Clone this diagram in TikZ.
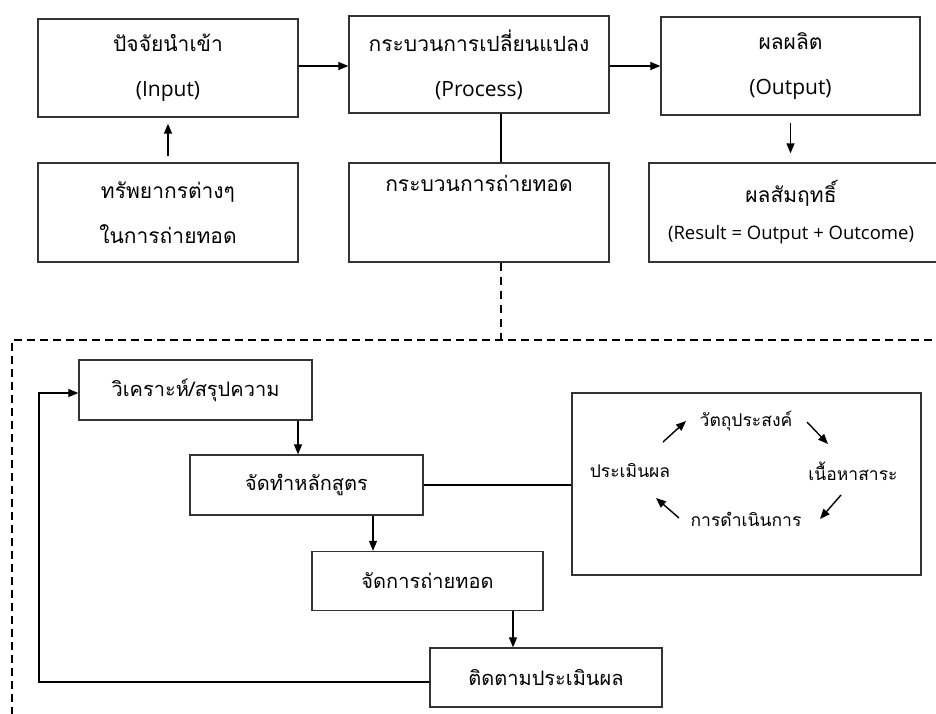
\documentclass[tikz,border=0pt]{standalone}
\usepackage{fontspec}
\setmainfont{Open Sans}
\newfontfamily\thaifont[Script=Thai]{Loma}
\usetikzlibrary{arrows.meta}
\begin{document}
\begin{tikzpicture}[x=1pt, y=-1pt,
  line width=1.2pt,
  box/.style={draw=black!80, line width=1.3pt, inner sep=0pt, align=center,
    font=\fontsize{21}{45}\selectfont},
  smallbox/.style={box, font=\fontsize{20}{40}\selectfont},
  lbl/.style={inner sep=0pt, align=center, font=\fontsize{17.5}{20}\selectfont\thaifont},
  arr/.style={-{Triangle[length=10pt,width=8pt]}, line width=1.2pt},
  cyc/.style={-{Triangle[length=10pt,width=8pt]}, line width=1.4pt},
  frame/.style={line width=1.2pt, dash pattern=on 7pt off 5pt}
]
\useasboundingbox (0,0) rectangle (936,713);

% upper row: input, process, output
\node[box, minimum width=260pt, minimum height=98pt] (inp) at (168,68)
  {{\thaifont ปัจจัยนำเข้า}\\(Input)};
\node[box, minimum width=260pt, minimum height=97pt] (proc) at (479,64.5)
  {{\thaifont กระบวนการเปลี่ยนแปลง}\\(Process)};
\node[box, minimum width=259pt, minimum height=98pt] (outp) at (790.5,66)
  {{\thaifont ผลผลิต}\\(Output)};

% second row
\node[box, minimum width=260pt, minimum height=99pt] (res) at (168,212.5)
  {{\thaifont ทรัพยากรต่างๆ}\\{\thaifont ในการถ่ายทอด}};
\node[box, minimum width=260pt, minimum height=99pt] (trans) at (479,212.5)
  {{\thaifont กระบวนการถ่ายทอด}\\\strut};
\node[box, minimum width=300pt, minimum height=99pt] (result) at (799,212.5) {};
\node[inner sep=0pt, align=center, font=\fontsize{21}{37}\selectfont] (resulttext) at (791,212)
  {{\thaifont ผลสัมฤทธิ์}\\{\fontsize{18.5}{37}\selectfont(Result = Output + Outcome)}};

% main flow at a common height
\coordinate (rowA) at (0,66);
\draw[arr] (inp.east |- rowA) -- (proc.west |- rowA);
\draw[arr] (proc.east |- rowA) -- (outp.west |- rowA);
\draw[arr] ([yshift=6pt]res.north) -- ([yshift=-6pt]inp.south);
\draw[arr] ([yshift=-7pt]outp.south) -- ([yshift=9pt]result.north -| outp.south);
\draw ([xshift=22pt]proc.south) -- ([xshift=22pt]trans.north);

% link down to the transfer process detail
\coordinate (frametop) at (501,340);
\draw[frame, dash pattern=on 8pt off 6pt] ([xshift=22pt]trans.south) -- (frametop);
\draw[frame, dash pattern=on 8pt off 5pt] (945,340) -- (12,340) -- (12,720);

% transfer process steps
\node[smallbox, minimum width=233pt, minimum height=60pt] (anal) at (195.5,390)
  {\thaifont วิเคราะห์/สรุปความ};
\node[smallbox, minimum width=233pt, minimum height=60pt] (curr) at (306.5,485)
  {\thaifont จัดทำหลักสูตร};
\node[smallbox, minimum width=231pt, minimum height=59pt] (manage) at (427.5,581)
  {\thaifont จัดการถ่ายทอด};
\node[smallbox, minimum width=232pt, minimum height=59pt] (follow) at (546,677.5)
  {\thaifont ติดตามประเมินผล};

\draw[arr] (anal.south -| 298,0) -- (curr.north -| 298,0);
\draw[arr] (curr.south -| 373,0) -- (manage.north -| 373,0);
\draw[arr] (manage.south -| 513,0) -- (follow.north -| 513,0);

\coordinate (fbcorner) at (39,682);
\draw[arr] (follow.west |- fbcorner) -- (fbcorner) -- (fbcorner |- 0,393) -- (anal.west |- 0,393);

% curriculum cycle
\node[draw=black!80, line width=1.3pt, minimum width=349pt, minimum height=182pt, inner sep=0pt] (cycle) at (746.5,484) {};
\draw (curr.east) -- (cycle.west |- curr.east);

\node[lbl] (obj) at (746,421) {วัตถุประสงค์};
\node[lbl] (cont) at (853,471) {เนื้อหาสาระ};
\node[lbl] (oper) at (746,519) {การดำเนินการ};
\node[lbl] (eval) at (630,471) {ประเมินผล};

\coordinate (c1a) at (663,442); \coordinate (c1b) at (686,421);
\coordinate (c2a) at (807,422); \coordinate (c2b) at (828,444);
\coordinate (c3a) at (841,495); \coordinate (c3b) at (820,519);
\coordinate (c4a) at (679,518); \coordinate (c4b) at (656,498);
\draw[cyc] (c1a) -- (c1b);
\draw[cyc] (c2a) -- (c2b);
\draw[cyc] (c3a) -- (c3b);
\draw[cyc] (c4a) -- (c4b);
\end{tikzpicture}
\end{document}
